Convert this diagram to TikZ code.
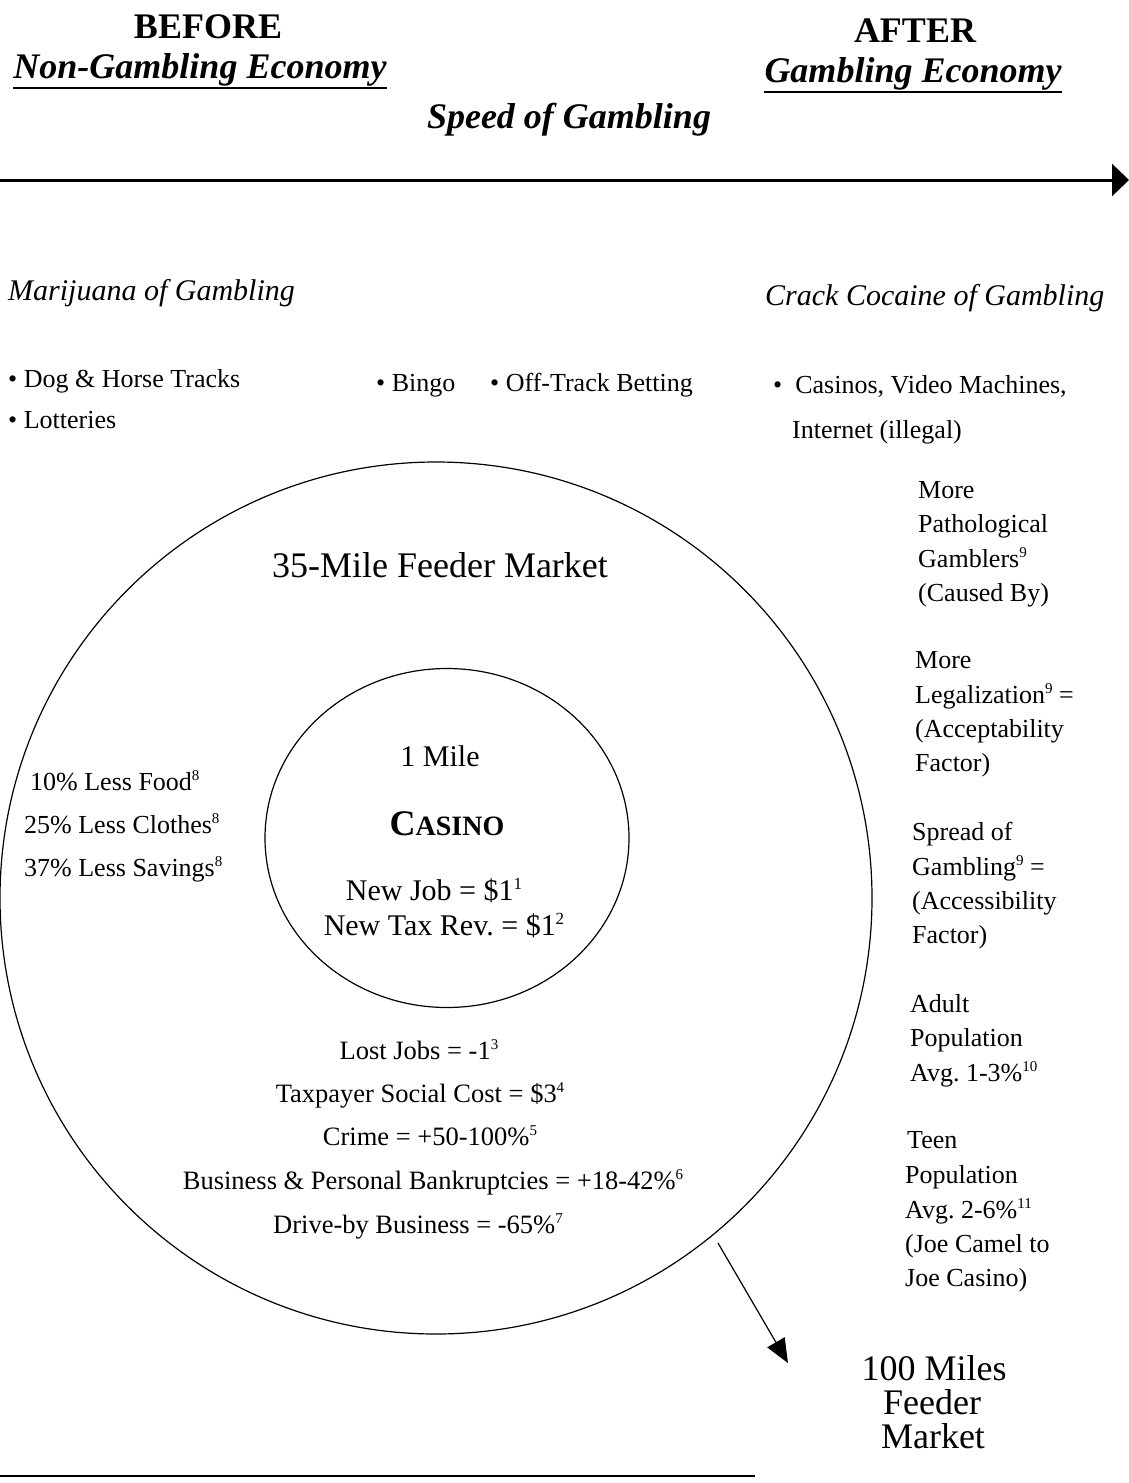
\documentclass[tikz,border=0pt]{standalone}
\usepackage{fontspec}
\setmainfont{Liberation Serif}
\usetikzlibrary{arrows.meta,shapes.geometric}
\frenchspacing
\newcommand\supr[1]{\raisebox{10pt}{\fontsize{15}{15}\selectfont #1}}
\newcommand\suprb[1]{\raisebox{11pt}{\fontsize{17}{17}\selectfont #1}}
\begin{document}
\begin{tikzpicture}[x=1pt,y=-1pt,
  t/.style={inner sep=0pt, anchor=base west, font=\fontsize{26}{30}\selectfont},
  tc/.style={inner sep=0pt, anchor=base, font=\fontsize{26.5}{30}\selectfont},
  big/.style={inner sep=0pt, anchor=base, font=\fontsize{30}{34}\selectfont},
  ttl/.style={inner sep=0pt, anchor=base, font=\fontsize{36}{40}\selectfont\bfseries},
  ttli/.style={inner sep=0pt, anchor=base, font=\fontsize{36}{40}\selectfont\bfseries\itshape},
  hd/.style={inner sep=0pt, anchor=base west, font=\fontsize{30}{34}\selectfont\itshape},
  ring/.style={draw, line width=1.2pt, inner sep=0pt},
  uline/.style={line width=2.8pt}]
\useasboundingbox (0,0) rectangle (1129,1483);

% titles
\node[ttl] (before) at (208,38) {BEFORE};
\node[ttli] (nge) at (200,78) {Non-Gambling Economy};
\node[ttl] (after) at (915,42) {AFTER};
\node[ttli] (ge) at (913,82) {Gambling Economy};
\node[ttli] (speed) at (569,128) {Speed of Gambling};
\draw[uline] ([yshift=-10pt]nge.base west) -- ([yshift=-10pt]nge.base east);
\draw[uline] ([yshift=-10pt]ge.base west) -- ([yshift=-10pt]ge.base east);

% speed arrow
\coordinate (ta) at (0,180);
\coordinate (tb) at (1129,180);
\draw[line width=3pt, -{Triangle[length=17pt,width=32pt]}] (ta) -- (tb);

% headings
\node[hd] (mar) at (8,300) {Marijuana of Gambling};
\node[hd] (crack) at (765,305) {Crack Cocaine of Gambling};

% bullets
\node[t] (dog) at (8,387) {\textbullet\ Dog \& Horse Tracks};
\node[t] (lot) at (8,428) {\textbullet\ Lotteries};
\node[t] (bingo) at (376,391) {\textbullet\ Bingo};
\node[t] (otb) at (490,391) {\textbullet\ Off-Track Betting};
\node[t] (cas) at (773,393) {\textbullet\hspace{13pt}Casinos, Video Machines,};
\node[t] (inet) at (792,438) {Internet (illegal)};

% circles
\node[ring, circle, minimum size=872pt] (outer) at (436,898) {};
\node[ring, ellipse, minimum width=364pt, minimum height=339pt] (inner) at (447,838) {};

\node[inner sep=0pt, anchor=base, font=\fontsize{36}{40}\selectfont] (feeder35) at (440,577) {35-Mile Feeder Market};

% inner texts
\node[big] (mile1) at (440,766) {1 Mile};
\node[inner sep=0pt, anchor=base, font=\bfseries] (casino) at (447,835) {{\fontsize{36}{40}\selectfont C}{\fontsize{28}{32}\selectfont ASINO}};
\node[big] (newjob) at (434,900) {New Job = \$1\suprb{1}};
\node[big] (newtax) at (444,935) {New Tax Rev. = \$1\suprb{2}};

% left texts
\node[t] (food) at (30,790) {10\% Less Food\supr{8}};
\node[t] (clothes) at (24,833) {25\% Less Clothes\supr{8}};
\node[t] (savings) at (24,876) {37\% Less Savings\supr{8}};

% bottom center texts
\node[tc] (lost) at (419,1059) {Lost Jobs = -1\supr{3}};
\node[tc] (tax) at (420,1102) {Taxpayer Social Cost = \$3\supr{4}};
\node[tc] (crime) at (430,1145) {Crime = +50-100\%\supr{5}};
\node[tc] (bank) at (433,1189) {Business \& Personal Bankruptcies = +18-42\%\supr{6}};
\node[tc] (drive) at (418,1233) {Drive-by Business = -65\%\supr{7}};

% right column
\node[t] (r1) at (918,498) {More};
\node[t] (r2) at (918,532) {Pathological};
\node[t] (r3) at (918,567) {Gamblers\supr{9}};
\node[t] (r4) at (918,601) {(Caused By)};
\node[t] (r5) at (915,668) {More};
\node[t] (r6) at (915,703) {Legalization\supr{9} =};
\node[t] (r7) at (915,737) {(Acceptability};
\node[t] (r8) at (915,771) {Factor)};
\node[t] (r9) at (912,840) {Spread of};
\node[t] (r10) at (912,875) {Gambling\supr{9} =};
\node[t] (r11) at (912,909) {(Accessibility};
\node[t] (r12) at (912,943) {Factor)};
\node[t] (r13) at (910,1012) {Adult};
\node[t] (r14) at (910,1046) {Population};
\node[t] (r15) at (910,1081) {Avg. 1-3\%\supr{10}};
\node[t] (r16) at (907,1148) {Teen};
\node[t] (r17) at (905,1183) {Population};
\node[t] (r18) at (905,1218) {Avg. 2-6\%\supr{11}};
\node[t] (r19) at (905,1252) {(Joe Camel to};
\node[t] (r20) at (905,1286) {Joe Casino)};

% 100 miles
\node[inner sep=0pt, anchor=base, font=\fontsize{36}{40}\selectfont] (m100) at (934,1380) {100 Miles};
\node[inner sep=0pt, anchor=base, font=\fontsize{36}{40}\selectfont] (mfeed) at (932,1414) {Feeder};
\node[inner sep=0pt, anchor=base, font=\fontsize{36}{40}\selectfont] (mmark) at (933,1448) {Market};

% expansion arrow
\coordinate (s1) at (718,1243);
\coordinate (s2) at (788,1363);
\draw[line width=1.2pt, -{Triangle[length=24pt,width=20pt]}] (s1) -- (s2);

% bottom rule
\coordinate (b1) at (0,1476);
\coordinate (b2) at (755,1476);
\draw[line width=2.5pt] (b1) -- (b2);
\end{tikzpicture}
\end{document}
